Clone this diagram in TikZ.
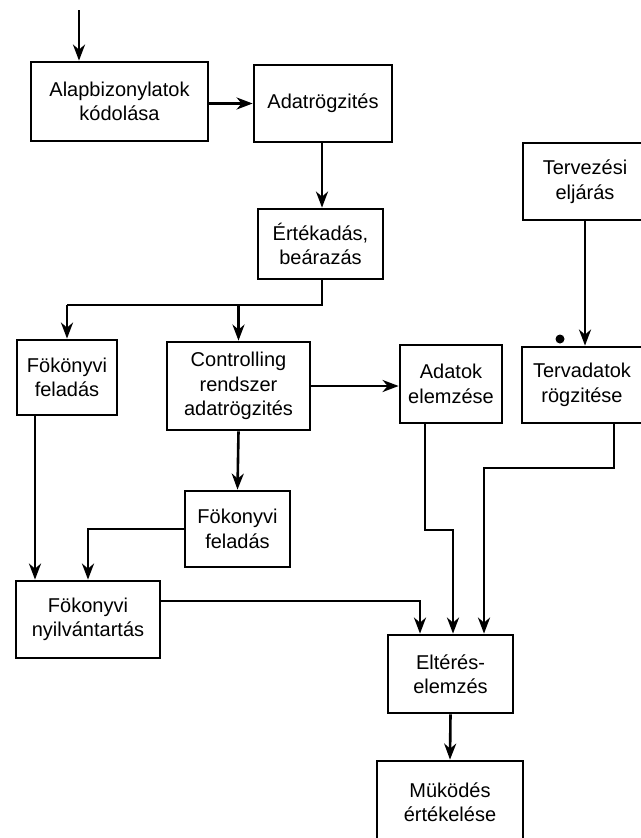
\documentclass[tikz,border=0pt]{standalone}
\usepackage{fontspec}
\setmainfont{Liberation Sans}
\usetikzlibrary{arrows.meta}
\begin{document}
\begin{tikzpicture}[x=1pt,y=-1pt,
  box/.style={draw,line width=2.8pt,align=center,inner sep=0pt,
    font=\fontsize{20}{24.5}\selectfont},
  wire/.style={line width=2.6pt},
  arr/.style={wire,-{Stealth[length=16pt,width=12pt,inset=5pt]}}]
\useasboundingbox (0,0) rectangle (640,838);

% process boxes
\node[box,minimum width=177pt,minimum height=79pt] (alap) at (119.5,101.5) {Alapbizonylatok\\kódolása};
\node[box,minimum width=138pt,minimum height=77pt] (adat) at (323,103.5) {Adatrögzités};
\node[box,minimum width=125pt,minimum height=70pt] (ertek) at (320.5,244) {Értékadás,\\beárazás};
\node[box,minimum width=124pt,minimum height=77pt] (terv) at (585,181.5) {Tervezési\\eljárás};
\node[box,minimum width=100pt,minimum height=75pt] (fok1) at (67,377.5) {Fökönyvi\\feladás};
\node[box,minimum width=143pt,minimum height=88pt] (contr) at (238.5,386) {Controlling\\rendszer\\adatrögzités};
\node[box,minimum width=102pt,minimum height=78pt] (adatok) at (451,384) {Adatok\\elemzése};
\node[box,minimum width=120pt,minimum height=76pt] (tervadat) at (582,385) {Tervadatok\\rögzitése};
\node[box,minimum width=105pt,minimum height=76pt] (fok2) at (237.5,529) {Fökonyvi\\feladás};
\node[box,minimum width=144pt,minimum height=77pt] (fnyilv) at (88,619.5) {Fökonyvi\\nyilvántartás};
\node[box,minimum width=125pt,minimum height=78pt] (elter) at (450.5,674) {Eltérés-\\elemzés};
\node[box,minimum width=146pt,minimum height=82pt] (mukod) at (450,802) {Müködés\\értékelése};

% bend and entry points
\coordinate (start) at (79,10);
\coordinate (bus) at (0,305);
\coordinate (adown) at (322,0);
\coordinate (k1) at (420,601);
\coordinate (k2) at (425,530);
\coordinate (k3) at (453,530);
\coordinate (k4) at (614,468);
\coordinate (k5) at (484,468);
\coordinate (k6) at (35,0);

% connectors
\draw[arr] (start) -- (start |- alap.north);
\draw[arr] (adat.west -| alap.east) -- (adat.west);
\draw[arr] (adat.south -| adown) -- (ertek.north -| adown);
\draw[wire] (ertek.south -| adown) |- (fok1.north |- bus);
\draw[arr] (fok1.north |- bus) -- (fok1.north);
\draw[arr] (contr.north |- bus) -- (contr.north);
\draw[arr] (contr.east) -- (contr.east -| adatok.west);
\draw[arr] (terv.south) -- (terv.south |- tervadat.north);
\draw[arr] (contr.south) -- (fok2.north);
\draw[arr] (fok2.west) -| (fnyilv.north);
\draw[arr] (fok1.south -| k6) -- (fnyilv.north -| k6);
\draw[arr] (fnyilv.east |- k1) -| (elter.north -| k1);
\draw[arr] (adatok.south -| k2) -- (k2) -- (k3) -- (elter.north -| k3);
\draw[arr] (tervadat.south -| k4) -- (k4) -- (k5) -- (elter.north -| k5);
\draw[arr] (elter.south) -- (mukod.north);

% ink spot beside the planning arrow
\fill (560,339) circle (4.5pt);
\end{tikzpicture}
\end{document}
